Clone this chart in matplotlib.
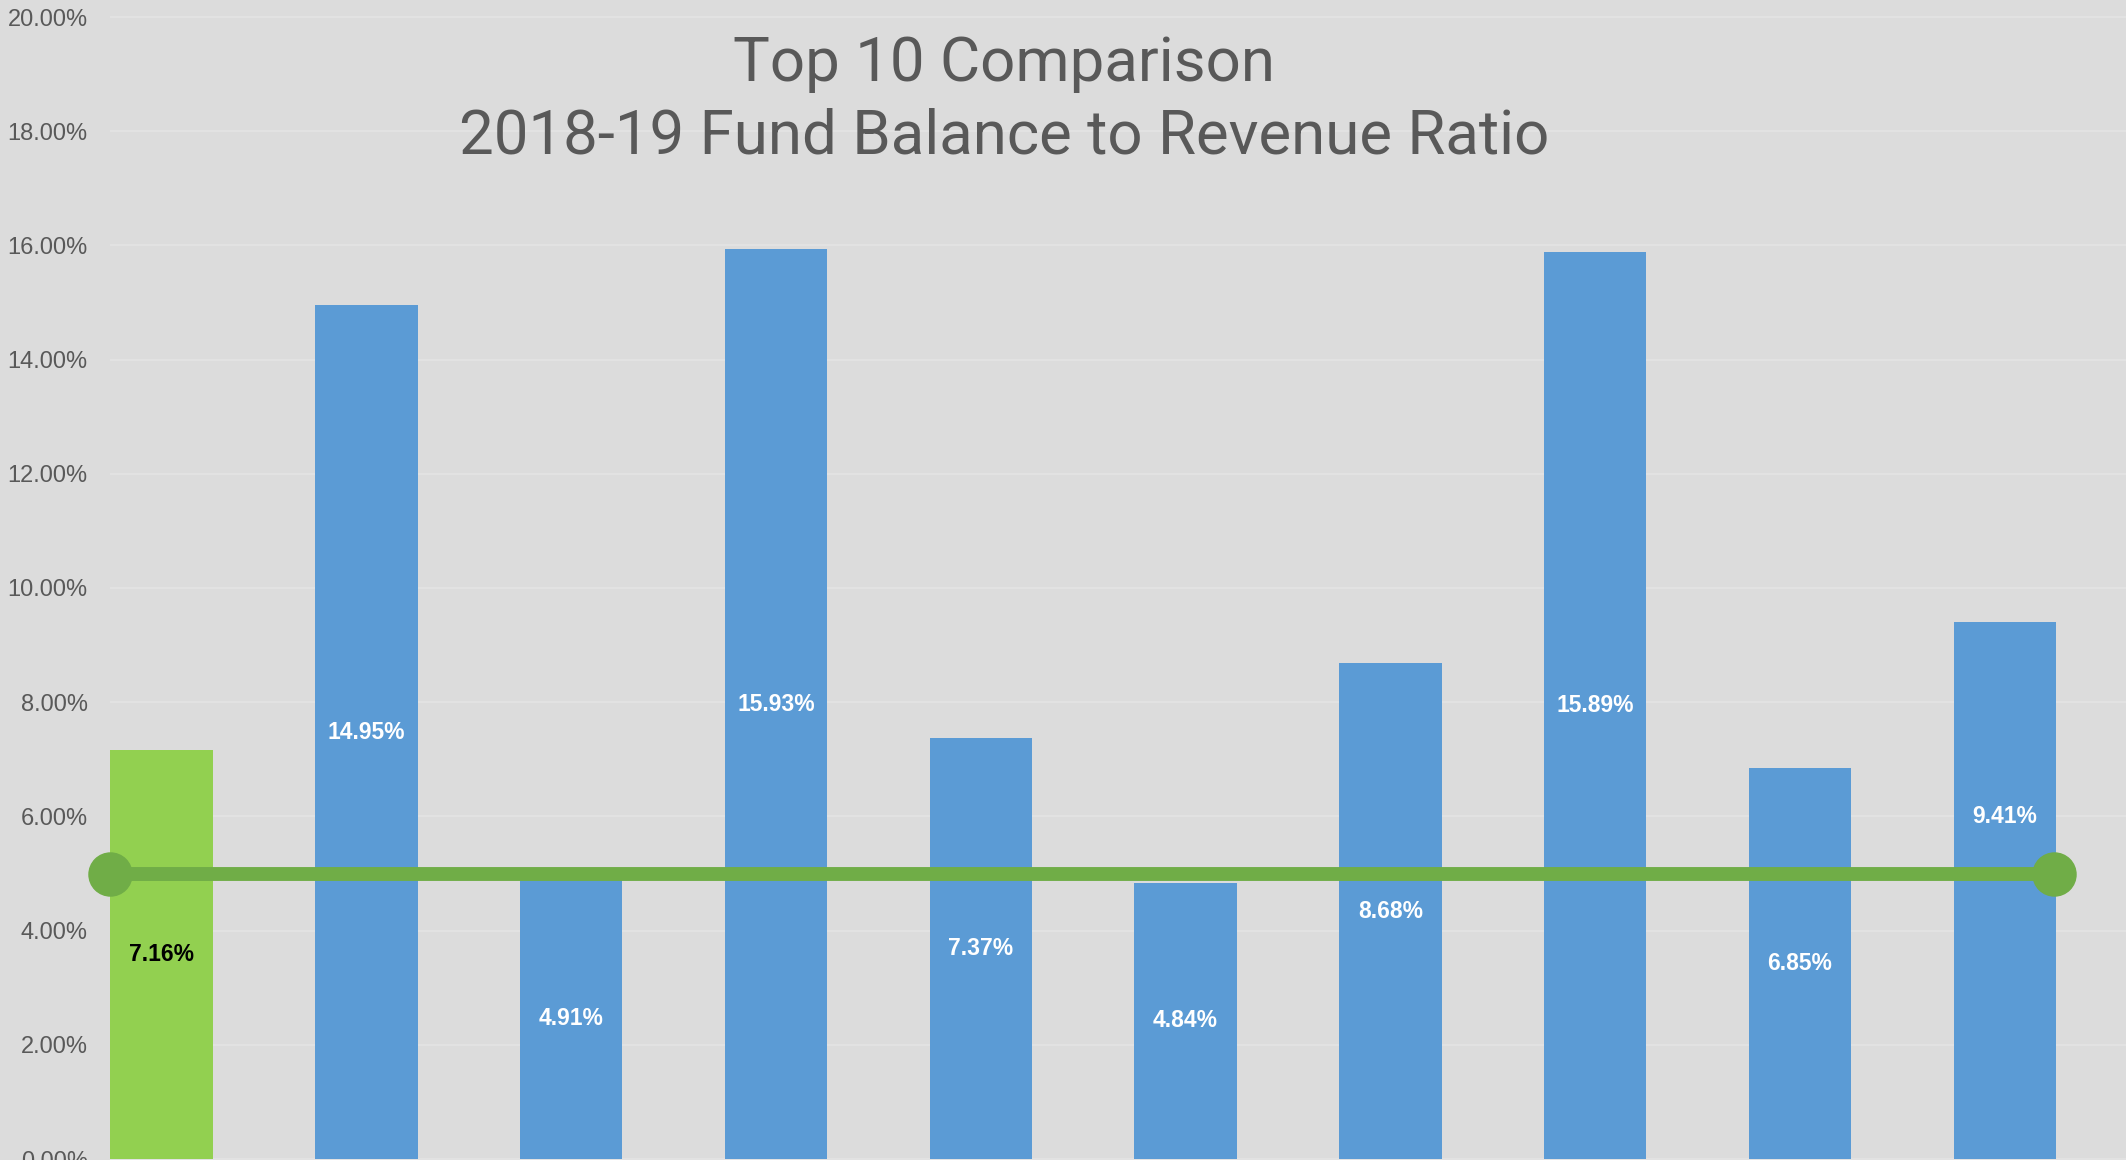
import matplotlib
matplotlib.use("Agg")
import matplotlib.pyplot as plt
from matplotlib import font_manager

# ---- data ----
categories = ["D1", "D2", "D3", "D4", "D5", "D6", "D7", "D8", "D9", "D10"]
ratios = [7.16, 14.95, 4.91, 15.93, 7.37, 4.84, 8.68, 15.89, 6.85, 9.41]
benchmark = 5.0
yticks = [0, 2, 4, 6, 8, 10, 12, 14, 16, 18, 20]
title_lines = ["Top 10 Comparison", "2018-19 Fund Balance to Revenue Ratio"]

# ---- style ----
installed = {f.name for f in font_manager.fontManager.ttflist}
narrow = "Liberation Sans Narrow" if "Liberation Sans Narrow" in installed else "Roboto"
base = "Liberation Sans"

BG = "#DCDCDC"
BLUE = "#5B9BD5"
GREEN_BAR = "#92D050"
GREEN_LINE = "#70AD47"
GREY_TXT = "#595959"

W, H = 2126, 1160
fig = plt.figure(figsize=(W / 100, H / 100), dpi=100, facecolor=BG)

ax_left_px = 110
pitch_px = 204.8
first_center_px = 161.5
ax = fig.add_axes([ax_left_px / W, 0, 1 - ax_left_px / W, 1])
ax.set_facecolor(BG)

x = list(range(len(categories)))
colors = [GREEN_BAR] + [BLUE] * (len(categories) - 1)
ax.bar(x, ratios, width=0.5, color=colors, zorder=2)

# axis limits in data units matching the reference geometry
xl = (ax_left_px - first_center_px) / pitch_px
xr = (W - first_center_px) / pitch_px
ax.set_xlim(xl, xr)
px_per_pct = 57.1
zero_px = 1159
ax.set_ylim(-(H - zero_px) / px_per_pct, 20 + 17 / px_per_pct)

# benchmark line with end markers
line_x = [-0.25, len(categories) - 0.76]
ax.plot(line_x, [benchmark, benchmark], color=GREEN_LINE,
        lw=10, solid_capstyle="butt", zorder=3, clip_on=False)
ax.plot(line_x, [benchmark, benchmark], ls="none", marker="o",
        ms=31, color=GREEN_LINE, zorder=4, clip_on=False)

# data labels (centered in bars; last one nudged above the line)
for i, v in enumerate(ratios):
    ly = v / 2
    if i == len(ratios) - 1:
        ly = 6.0
    ax.text(i, ly, f"{v:.2f}%", ha="center", va="center", fontsize=16.5,
            fontweight="bold", family=base,
            color="black" if i == 0 else "white", zorder=5)

# gridlines
ax.set_yticks(yticks)
ax.set_yticklabels([f"{t:.2f}%" for t in yticks], fontsize=17, color=GREY_TXT, family=base)
ax.tick_params(axis="y", length=0, pad=16)
ax.tick_params(axis="x", length=0, labelbottom=False)
ax.yaxis.grid(True, color="#E4E4E4", lw=1.2, zorder=0)
ax.set_axisbelow(True)
for s in ax.spines.values():
    s.set_visible(False)

# title
fig.text(1004 / W, 1 - 64 / H, title_lines[0], ha="center", va="center",
         fontsize=44.5, color=GREY_TXT, family=narrow)
fig.text(1004 / W, 1 - 136 / H, title_lines[1], ha="center", va="center",
         fontsize=44.5, color=GREY_TXT, family=narrow)

fig.savefig("out.png", dpi=100, facecolor=BG)
